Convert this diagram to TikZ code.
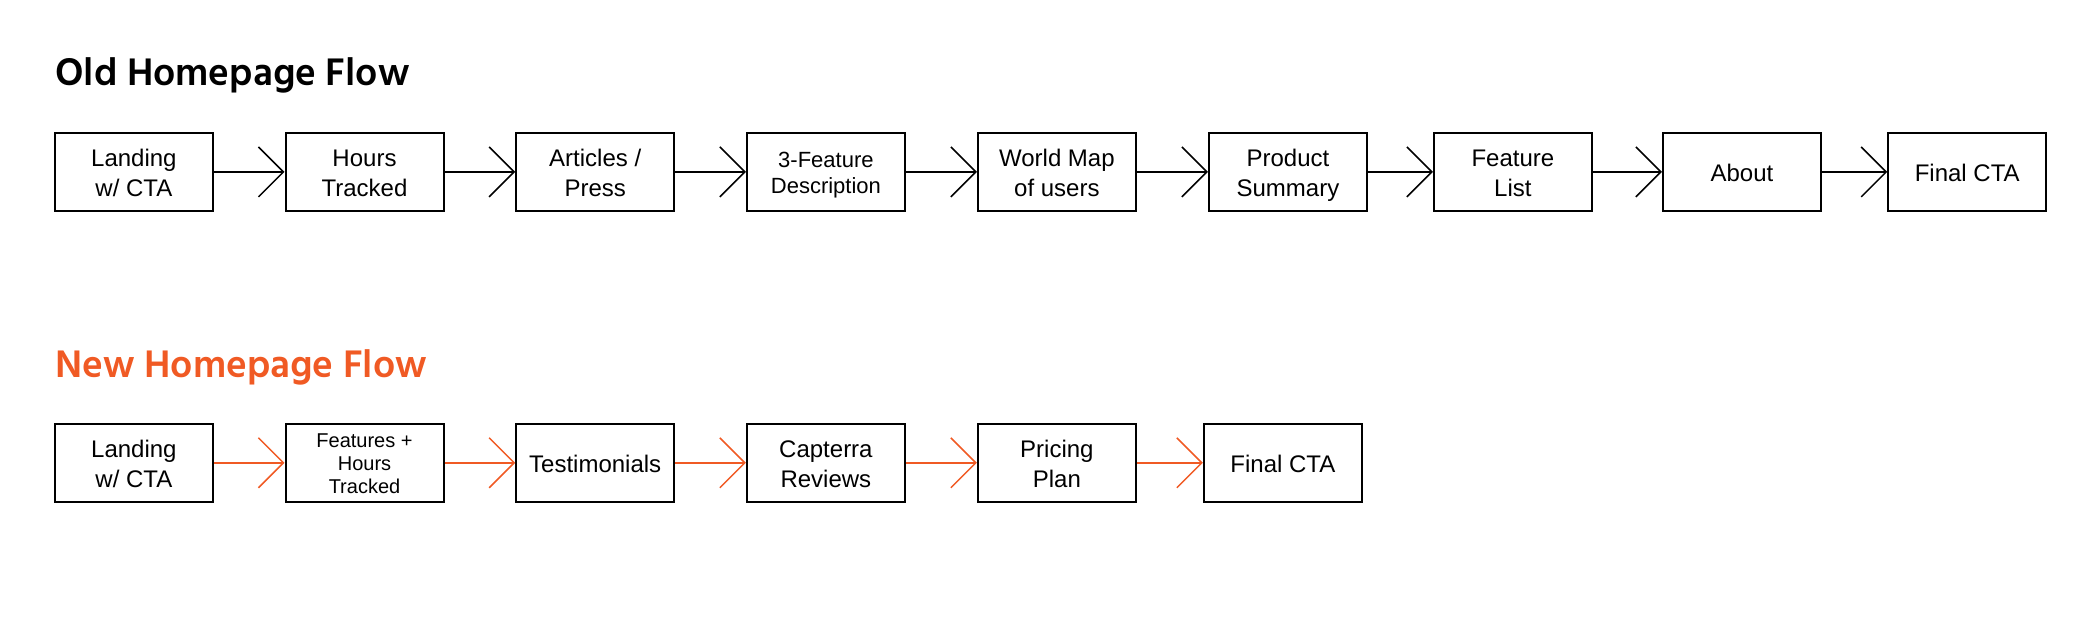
\documentclass[tikz,border=0pt]{standalone}
\usepackage{fontspec}
\setmainfont{Liberation Sans}
\newfontfamily\titolofont{Hind Siliguri}
\usepackage{tikz}
\usetikzlibrary{arrows.meta}
\definecolor{arancio}{RGB}{240,90,36}
\newcommand{\puntello}{\rule[-0.21em]{0pt}{1.21em}}
\newcommand{\testo}[1]{\puntello#1\puntello}

\begin{document}
\begin{tikzpicture}[x = 0.5pt, y = -0.5pt,
    box/.style = {draw, line width = 1pt, minimum width = 79pt, minimum height = 39.25pt, inner sep = 0pt, align = center, font = \fontsize{12}{15}\selectfont},
    freccia/.style = {line width = 0.75pt, -{Straight Barb[length = 12.5pt, width = 25pt]}},
    titolo/.style = {anchor = base west, inner sep = 0pt, font = \titolofont\bfseries\fontsize{19.7}{24}\selectfont}]
    % Parametri
    \pgfmathsetmacro{\yvecchio}{171.9}
    \pgfmathsetmacro{\ynuovo}{462.8}

    % Cornice
    \useasboundingbox (0,0) rectangle (2097,636);

    % Titoli
    \node[titolo] (tvecchio) at (55,85.7){Old Homepage Flow};
    \node[titolo, arancio] (tnuovo) at (55,377.3){New Homepage Flow};

    % Flusso vecchio
    \node[box] (v1) at (133.9,\yvecchio){\testo{Landing\\w/ CTA}};
    \node[box] (v2) at (364.5,\yvecchio){\testo{Hours\\Tracked}};
    \node[box] (v3) at (595.2,\yvecchio){\testo{Articles /\\Press}};
    \node[box, font = \fontsize{11}{13.4}\selectfont] (v4) at (825.9,\yvecchio){\testo{3-Feature\\Description}};
    \node[box] (v5) at (1056.9,\yvecchio){\testo{World Map\\of users}};
    \node[box] (v6) at (1287.9,\yvecchio){\testo{Product\\Summary}};
    \node[box] (v7) at (1512.9,\yvecchio){\testo{Feature\\List}};
    \node[box] (v8) at (1741.9,\yvecchio){\testo{About}};
    \node[box] (v9) at (1967.2,\yvecchio){\testo{Final CTA}};
    \draw[freccia] (v1) -- (v2);
    \draw[freccia] (v2) -- (v3);
    \draw[freccia] (v3) -- (v4);
    \draw[freccia] (v4) -- (v5);
    \draw[freccia] (v5) -- (v6);
    \draw[freccia] (v6) -- (v7);
    \draw[freccia] (v7) -- (v8);
    \draw[freccia] (v8) -- (v9);

    % Flusso nuovo
    \node[box] (n1) at (133.9,\ynuovo){\testo{Landing\\w/ CTA}};
    \node[box, font = \fontsize{10}{11.5}\selectfont] (n2) at (364.5,\ynuovo){\testo{Features +\\Hours\\Tracked}};
    \node[box] (n3) at (595.2,\ynuovo){\testo{Testimonials}};
    \node[box] (n4) at (825.9,\ynuovo){\testo{Capterra\\Reviews}};
    \node[box] (n5) at (1056.9,\ynuovo){\testo{Pricing\\Plan}};
    \node[box] (n6) at (1282.9,\ynuovo){\testo{Final CTA}};
    \draw[freccia, arancio] (n1) -- (n2);
    \draw[freccia, arancio] (n2) -- (n3);
    \draw[freccia, arancio] (n3) -- (n4);
    \draw[freccia, arancio] (n4) -- (n5);
    \draw[freccia, arancio] (n5) -- (n6);
\end{tikzpicture}
\end{document}
